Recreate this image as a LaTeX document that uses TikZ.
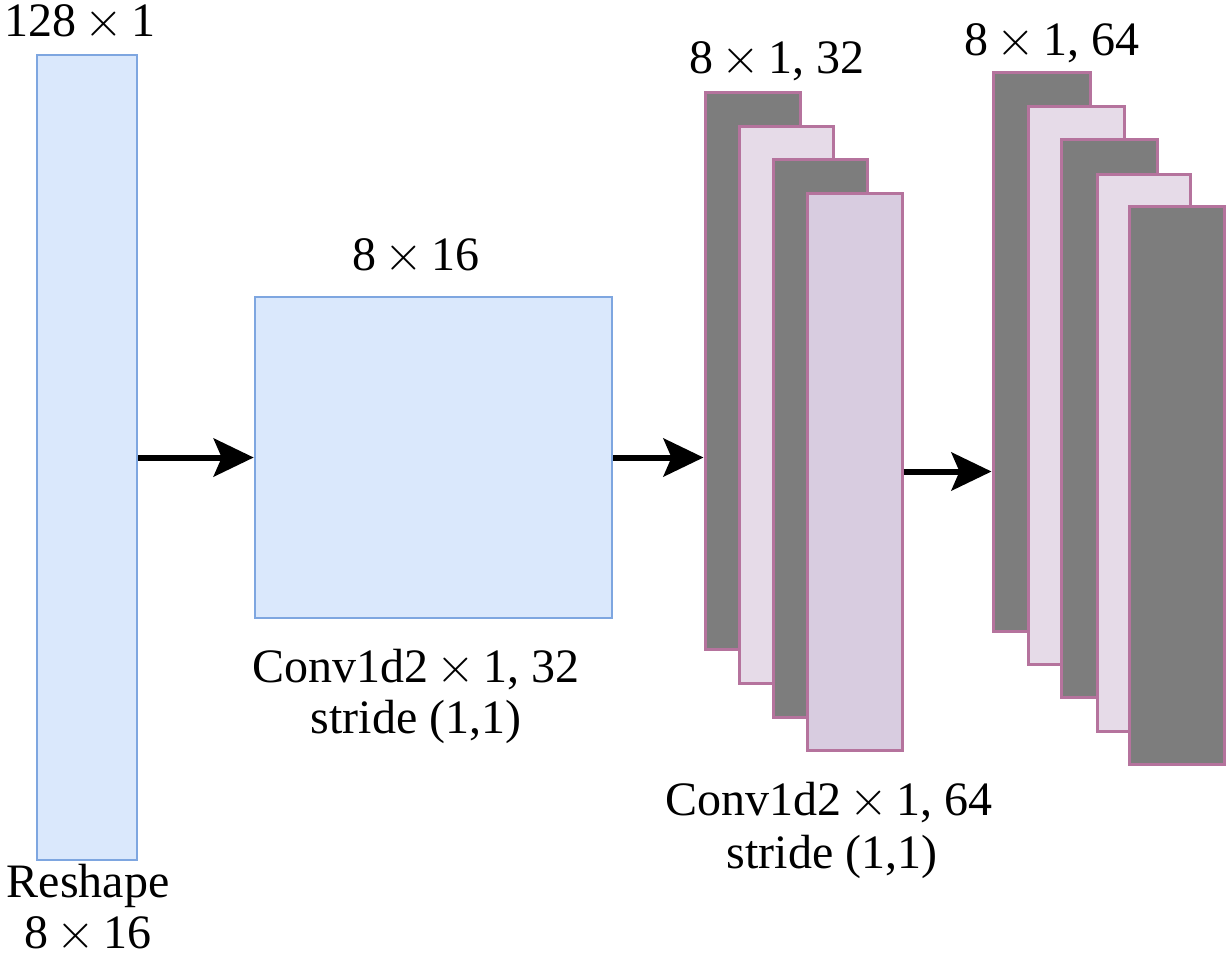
\documentclass[tikz,border=0pt]{standalone}
\usepackage{fontspec}
\setmainfont{Liberation Serif}
\usetikzlibrary{fit,arrows.meta}
\definecolor{bfill}{HTML}{DAE8FC}
\definecolor{bdraw}{HTML}{7EA6E0}
\definecolor{pdraw}{HTML}{B5739D}
\definecolor{dfill}{HTML}{7D7D7D}
\definecolor{lfill}{HTML}{E6DBE8}
\definecolor{mfill}{HTML}{D8CCE0}
\newcommand{\tms}{\,$\times$\,}
\begin{document}
\begin{tikzpicture}[x=0.5pt,y=-0.5pt,
  bluebox/.style={draw=bdraw,fill=bfill,line width=1.3pt,inner sep=0pt},
  darkbox/.style={draw=pdraw,fill=dfill,line width=1.5pt,inner sep=0pt},
  lightbox/.style={draw=pdraw,fill=lfill,line width=1.5pt,inner sep=0pt},
  midbox/.style={draw=pdraw,fill=mfill,line width=1.5pt,inner sep=0pt},
  lbl/.style={anchor=base,inner sep=0pt,font=\fontsize{24}{28}\selectfont},
  arr/.style={line width=3pt,-{Stealth[length=20pt,width=19pt,inset=4pt]}}]
\useasboundingbox (0,0) rectangle (1230,965);
% input column
\node[bluebox,fit={(37,55)(137,860)}] (in) {};
\node[lbl] (inTop) at (80,36) {128\tms1};
\node[lbl] (inB1) at (88,897) {Reshape};
\node[lbl] (inB2) at (88,948) {8\tms16};
% conv box
\node[bluebox,fit={(255,297)(612,618)}] (conv) {};
\node[lbl] (convTop) at (416,270) {8\tms16};
\node[lbl] (convB1) at (416,682) {Conv1d2\tms1, 32};
\node[lbl] (convB2) at (416,733) {stride (1,1)};
% group 1
\node[darkbox,fit={(705,92)(800,649)}] (g1a) {};
\node[lightbox,fit={(739,126)(833,683)}] (g1b) {};
\node[darkbox,fit={(773,159)(867,717)}] (g1c) {};
\node[midbox,fit={(807,193)(902,750)}] (g1d) {};
\node[lbl] (g1Top) at (777,73) {8\tms1, 32};
\node[lbl] (g1B1) at (829,815) {Conv1d2\tms1, 64};
\node[lbl] (g1B2) at (832,868) {stride (1,1)};
% group 2
\node[darkbox,fit={(993,72)(1090,631)}] (g2a) {};
\node[lightbox,fit={(1028,106)(1124,664)}] (g2b) {};
\node[darkbox,fit={(1061,139)(1157,697)}] (g2c) {};
\node[lightbox,fit={(1097,174)(1190,731)}] (g2d) {};
\node[darkbox,fit={(1129,206)(1224,764)}] (g2e) {};
\node[lbl] (g2Top) at (1052,55) {8\tms1, 64};
% arrows
\draw[arr] (in.east) -- (conv.west);
\draw[arr] (conv.east) -- (conv.east -| g1a.west);
\draw[arr] (g1d.east) -- (g1d.east -| g2a.west);
\end{tikzpicture}
\end{document}
